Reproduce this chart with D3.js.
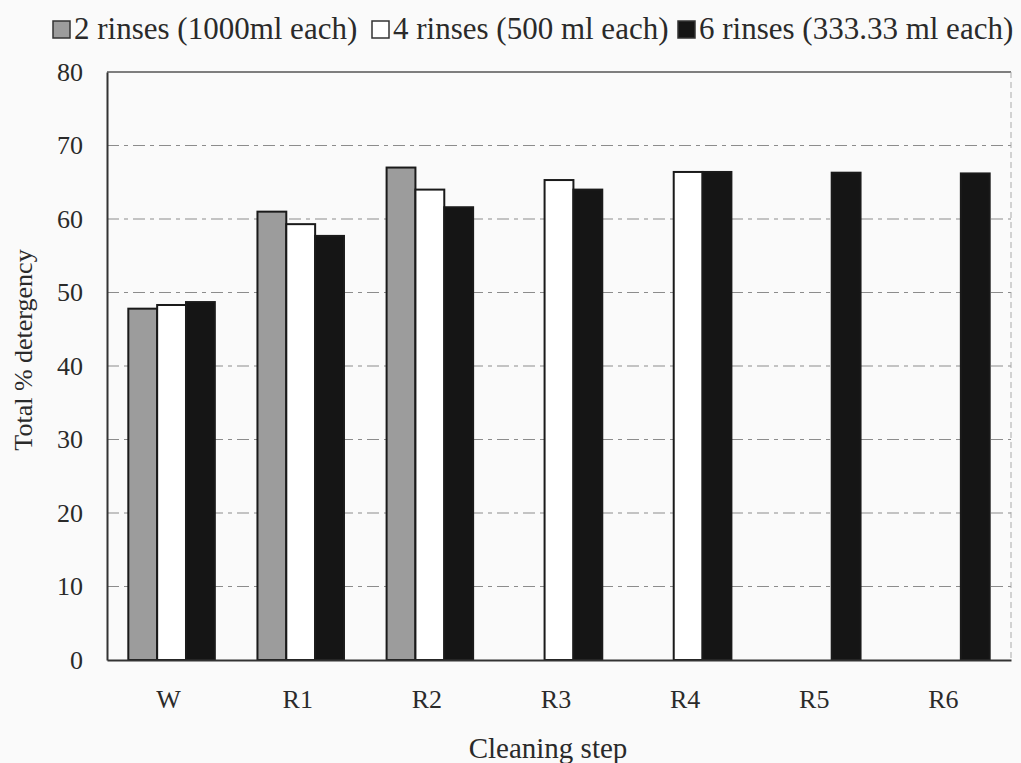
<!DOCTYPE html>
<html>
<head>
<meta charset="utf-8">
<script src="https://cdn.jsdelivr.net/npm/d3@7"></script>
<style>
  body { margin: 0; background: #fafafa; }
  svg { display: block; font-family: "Liberation Serif", "Times New Roman", serif; }
  svg text { font-family: "Liberation Serif", "Times New Roman", serif; }
</style>
</head>
<body>
<svg id="chart"></svg>
<script>
const categories = ["W", "R1", "R2", "R3", "R4", "R5", "R6"];
const seriesNames = ["2 rinses (1000ml each)", "4 rinses (500 ml each)", "6 rinses (333.33 ml each)"];
const twoRinses = [47.8, 61.0, 67.0, null, null, null, null];
const fourRinses = [48.3, 59.3, 64.0, 65.3, 66.4, null, null];
const sixRinses = [48.7, 57.7, 61.6, 64.0, 66.4, 66.3, 66.2];
const yTicks = [0, 10, 20, 30, 40, 50, 60, 70, 80];

document.addEventListener("DOMContentLoaded", function() {
   const width = 1021;
   const height = 763;
   const margin = { top: 72, right: 10, bottom: 103, left: 107 };
   const ink = "#2a2a2a";

   const svg = d3.select("#chart")
       .attr("width", width)
       .attr("height", height);

   const fills = ["#9c9c9c", "#ffffff", "#151515"];
   const values = [twoRinses, fourRinses, sixRinses];

   const x0 = d3.scaleBand()
       .domain(categories)
       .range([margin.left, width - margin.right])
       .paddingInner(0.33)
       .paddingOuter(0.165);

   const x1 = d3.scaleBand()
       .domain(d3.range(seriesNames.length))
       .range([0, x0.bandwidth()]);

   const y = d3.scaleLinear()
       .domain([0, 80])
       .range([height - margin.bottom, margin.top]);

   // gridlines
   svg.append("g")
       .selectAll("line")
       .data(yTicks.filter(t => t > 0 && t < 80))
       .enter()
       .append("line")
       .attr("x1", margin.left)
       .attr("x2", width - margin.right)
       .attr("y1", d => y(d))
       .attr("y2", d => y(d))
       .attr("stroke", "#8c8c8c")
       .attr("stroke-width", 1)
       .attr("stroke-dasharray", "12,5,4,5");

   // plot frame (top + right)
   svg.append("line")
       .attr("x1", margin.left).attr("x2", width - margin.right)
       .attr("y1", y(80)).attr("y2", y(80))
       .attr("stroke", "#555").attr("stroke-width", 1.5);
   svg.append("line")
       .attr("x1", width - margin.right).attr("x2", width - margin.right)
       .attr("y1", y(80)).attr("y2", y(0))
       .attr("stroke", "#aaa").attr("stroke-width", 1)
       .attr("stroke-dasharray", "6,4");

   // bars
   const groups = svg.selectAll(".grp")
       .data(categories)
       .enter()
       .append("g")
       .attr("class", "grp")
       .attr("transform", d => `translate(${x0(d)},0)`);

   groups.selectAll("rect")
       .data((d, i) => values.map((v, s) => ({ s: s, v: v[i] })).filter(e => e.v != null))
       .enter()
       .append("rect")
       .attr("x", d => x1(d.s))
       .attr("width", x1.bandwidth())
       .attr("y", d => y(d.v))
       .attr("height", d => y(0) - y(d.v))
       .attr("fill", d => fills[d.s])
       .attr("stroke", "#1a1a1a")
       .attr("stroke-width", 2);

   // axes
   const yAxis = svg.append("g")
       .attr("transform", `translate(${margin.left},0)`)
       .call(d3.axisLeft(y).tickValues(yTicks).tickSize(0).tickPadding(24));
   yAxis.select(".domain").attr("stroke", "#333").attr("stroke-width", 2);
   yAxis.selectAll("text")
       .style("font-size", "26px")
       .attr("fill", ink);

   const xAxis = svg.append("g")
       .attr("transform", `translate(0,${y(0)})`)
       .call(d3.axisBottom(x0).tickSize(0).tickPadding(30));
   xAxis.select(".domain").attr("stroke", "#333").attr("stroke-width", 2);
   xAxis.selectAll("text")
       .style("font-size", "26px")
       .attr("fill", ink)
       .attr("dx", -3);

   // axis titles
   svg.append("text")
       .attr("transform", "translate(32,350) rotate(-90)")
       .attr("text-anchor", "middle")
       .attr("font-size", 26)
       .attr("fill", ink)
       .text("Total % detergency");

   svg.append("text")
       .attr("x", 548)
       .attr("y", 758)
       .attr("text-anchor", "middle")
       .attr("font-size", 29)
       .attr("fill", ink)
       .text("Cleaning step");

   // legend
   const legendX = [53, 372, 678];
   const legend = svg.append("g");
   seriesNames.forEach((name, i) => {
       legend.append("rect")
           .attr("x", legendX[i])
           .attr("y", 21)
           .attr("width", 17)
           .attr("height", 17)
           .attr("fill", fills[i])
           .attr("stroke", "#333")
           .attr("stroke-width", 1.5);
       legend.append("text")
           .attr("x", legendX[i] + 21)
           .attr("y", 39)
           .attr("font-size", 31)
           .attr("fill", ink)
           .text(name);
   });
});
</script>
</body>
</html>
